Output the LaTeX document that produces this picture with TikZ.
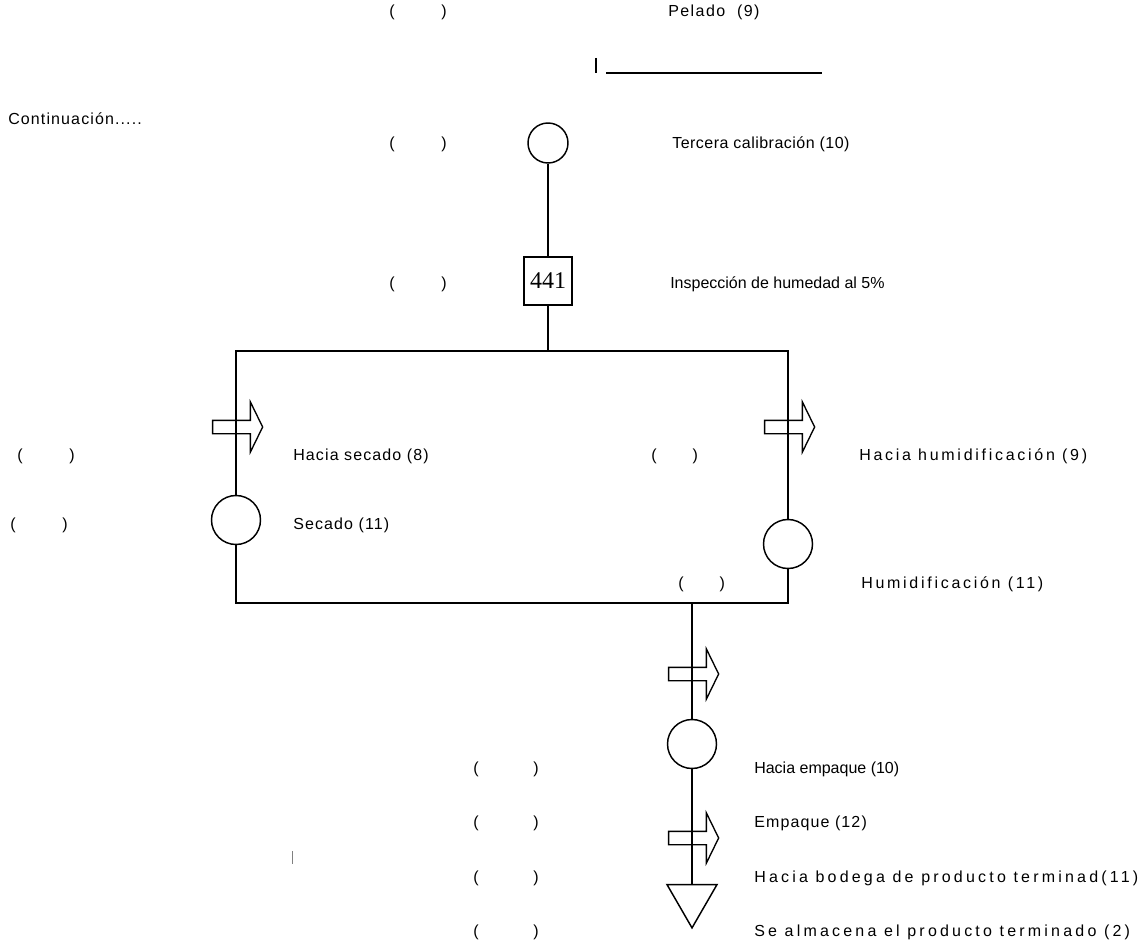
\documentclass[tikz,border=0pt]{standalone}
\usepackage{fontspec}
\setmainfont{Liberation Sans}
\newfontfamily\numfont{Liberation Serif}
\usetikzlibrary{positioning,shapes.arrows,shapes.geometric}
\tikzset{op node/.style={circle,draw,line width=1.1pt,minimum size=36.75pt,inner sep=0pt},
  insp node/.style={rectangle,draw,line width=1.1pt,minimum size=36pt,inner sep=0pt,font=\numfont\fontsize{18}{20}\selectfont},
  move node/.style={single arrow,draw,line width=1pt,inner sep=0pt,inner ysep=4.5pt,minimum height=37.5pt,minimum width=36.75pt,single arrow head extend=13.9pt,single arrow tip angle=128},
  store node/.style={regular polygon,regular polygon sides=3,shape border rotate=180,draw,line width=1.1pt,minimum size=43.3pt,inner sep=0pt},
  lbl/.style={anchor=west,inner sep=0pt,font=\fontsize{12}{14}\selectfont},
  ls/.style={font=\fontsize{12}{14}\selectfont\addfontfeatures{LetterSpace=#1}},
  flow/.style={line width=1.5pt},}
\newcommand{\pargap}[1]{(\hspace{#1})}

\begin{document}
\begin{tikzpicture}[x=0.75pt,y=-0.75pt]
    \useasboundingbox (0,0) rectangle (1144,941);

    % simbolos
    \node[op node,minimum size=30pt] (cal) at (548,143) {};
    \node[insp node] (insp) at (548,281) {441};
    \node[op node] (sec) at (236,520) {};
    \node[op node] (hum) at (788,544) {};
    \node[op node] (emp) at (692,744) {};
    \node[store node] (alm) at (692,899) {};
    \coordinate (tl) at (236,351);
    \coordinate (tr) at (788,351);
    \coordinate (tm) at (548,351);
    \coordinate (bl) at (236,603);
    \coordinate (br) at (788,603);
    \coordinate (bm) at (692,603);

    \path[draw,flow]
    (cal) -- (insp)
    (insp) -- (tm)
    (sec.north) -- (tl) -- (tr) -- (hum.north)
    (sec.south) -- (bl) -- (br) -- (hum.south)
    (bm) -- (emp.north)
    (emp.south) -- (alm.north)
    ;

    \node[move node] (mov1) at (236,427) {};
    \node[move node] (mov2) at (788,427) {};
    \node[move node] (mov3) at (692,674) {};
    \node[move node] (mov4) at (692,838) {};

    % trazos sueltos
    \coordinate (ba) at (596,58);
    \coordinate (bb) at (596,73);
    \coordinate (la) at (606,73);
    \coordinate (lb) at (822,73);
    \draw[line width=1.5pt] (ba) -- (bb);
    \draw[line width=1.5pt] (la) -- (lb);
    \coordinate (ma) at (292,851);
    \coordinate (mb) at (292,864);
    \draw[gray,line width=0.4pt] (ma) -- (mb);

    % textos
    \node[lbl] (p1) at (389,12) {\pargap{35pt}};
    \node[lbl,ls=9] (t1) at (668,12) {Pelado\ \ (9)};
    \node[lbl,ls=7] (t0) at (8,119) {Continuación.....};
    \node[lbl] (p2) at (389,144) {\pargap{35pt}};
    \node[lbl,ls=3] (t2) at (672,144) {Tercera calibración (10)};
    \node[lbl] (p3) at (389,284) {\pargap{35pt}};
    \node[lbl] (t3) at (670,284) {Inspección de humedad al 5\%};
    \node[lbl] (p4) at (17,456) {\pargap{35pt}};
    \node[lbl,ls=7] (t4) at (293,456) {Hacia secado (8)};
    \node[lbl] (p5) at (651,456) {\pargap{27pt}};
    \node[lbl,ls=17] (t5) at (859,456) {Hacia humidificación (9)};
    \node[lbl] (p6) at (10,525) {\pargap{35pt}};
    \node[lbl,ls=7] (t6) at (293,525) {Secado (11)};
    \node[lbl] (p7) at (678,584) {\pargap{27pt}};
    \node[lbl,ls=17] (t7) at (861,584) {Humidificación (11)};
    \node[lbl] (p8) at (473,769) {\pargap{41pt}};
    \node[lbl] (t8) at (754,769) {Hacia empaque (10)};
    \node[lbl] (p9) at (473,823) {\pargap{41pt}};
    \node[lbl,ls=7] (t9) at (754,823) {Empaque (12)};
    \node[lbl] (p10) at (473,878) {\pargap{41pt}};
    \node[lbl,ls=20] (t10) at (754,878) {Hacia bodega de producto terminad(11)};
    \node[lbl] (p11) at (473,932) {\pargap{41pt}};
    \node[lbl,ls=20] (t11) at (754,932) {Se almacena el producto terminado (2)};
\end{tikzpicture}
\end{document}
